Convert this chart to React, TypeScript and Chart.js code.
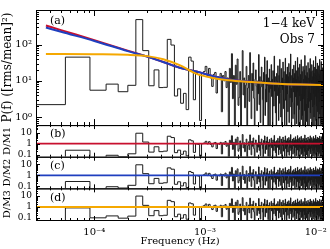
import React, { useEffect, useRef } from 'react';
import { Chart, registerables } from 'chart.js';

Chart.register(...registerables);

// ---- data ----
const FREQ_STEP = 3.65e-5; // Hz, periodogram resolution (bin k centred at k*FREQ_STEP)
const FREQ_MIN = 2.97e-5;
const FREQ_MAX = 0.0119;

// periodogram power, bins k = 1..328
const POWER: number[] = [
  2.2, 45, 5.5, 8.1, 5.0, 7.5, 490, 68, 7.3, 20,
  6.5, 6.6, 139, 97, 3.8, 6.0, 2.4, 4.5, 1.6, 45,
  35, 3.0, 17, 15, 0.8, 16, 18, 25, 14, 22,
  12, 7.0, 15, 17, 4.6, 13, 11, 16, 1.4, 14, 10, 18, 6.5, 12,
  0.4, 22, 9.0, 56, 3.2, 14, 0.3, 27, 8.0, 40, 2.1,
  3.5, 18, 0.5, 9.2, 68, 4.1, 12, 1.8, 7.5, 25, 0.2, 6.3, 14,
  2.7, 60, 8.8, 0.9, 16, 5.4, 31, 3.3, 0.4, 11, 20, 7.1, 1.5,
  9.9, 4.4, 53, 2.2, 13, 0.7, 6.8, 24, 10, 3.0, 0.25, 17, 8.3,
  45, 1.1, 5.9, 15, 2.6, 36, 7.4, 0.6, 12, 4.8, 21, 0.35, 9.6,
  6.1, 28, 3.7, 11, 0.45, 19, 8.0, 2.0, 48, 5.2, 13, 1.3, 7.9,
  0.15, 16, 10, 3.9, 26, 6.6, 0.8, 14, 2.4, 39, 9.1, 4.5, 1.0,
  22, 7.2, 0.3, 12, 5.7, 33, 1.7, 8.6, 18, 3.1, 0.55, 11, 42,
  2.9, 6.9, 15, 0.2, 9.4, 24, 4.2, 1.4, 13, 7.8, 30, 0.7, 5.5,
  17, 3.4, 10, 55, 1.9, 6.2, 0.4, 14, 8.7, 21, 2.5, 0.9, 12,
  4.9, 27, 7.0, 1.2, 16, 0.3, 9.8, 35, 3.6, 6.4, 11, 0.65, 19,
  8.2, 2.1, 44, 5.0, 13, 0.5, 7.6, 23, 1.6, 10, 3.8, 29, 0.25,
  6.7, 15, 2.8, 9.0, 38, 0.85, 4.3, 12, 18, 1.1, 7.3, 0.4, 25,
  3.2, 11, 5.8, 0.6, 20, 8.4, 1.5, 50, 4.0, 14, 0.3, 9.5, 6.0,
  26, 2.3, 0.75, 13, 7.7, 17, 3.5, 0.2, 10, 32, 5.1, 1.8, 8.9,
  12, 0.45, 22, 6.5, 2.7, 15, 9.3, 41, 1.3, 4.6, 0.9, 18, 7.0,
  3.0, 11, 28, 0.35, 8.1, 5.6, 13, 1.9, 19, 0.6, 10, 36, 4.4,
  6.3, 1.0, 16, 9.7, 2.2, 24, 0.5, 7.4, 12, 3.7, 47, 5.3, 0.8,
  14, 8.5, 2.0, 21, 0.3, 10, 6.1, 31, 3.3, 1.4, 17, 7.9, 0.55,
  11, 4.7, 26, 0.9, 9.2, 15, 2.6, 6.8, 39, 1.2, 13, 0.4, 8.0,
  5.4, 20, 3.1, 0.7, 12, 34, 7.2, 1.7, 10, 0.25, 16, 4.1, 23,
  2.4, 9.0, 0.6, 14, 6.6, 1.1, 28, 8.3, 3.9, 18, 0.45, 11, 7.5,
];

// model curves read at these frequencies
const MODEL_FREQ = [3.65e-5, 5e-5, 1e-4, 2e-4, 3e-4, 4.2e-4, 5.9e-4, 8.4e-4, 1.17e-3, 1.64e-3, 2.65e-3, 5e-3, 1.19e-2];
const MODEL_M1 = [336, 250, 133, 68, 47, 33, 23, 18, 13.6, 10.8, 9.3, 8.2, 7.7];
const MODEL_M2 = [296, 225, 126, 66, 46.5, 33, 23, 18, 13.6, 10.8, 9.3, 8.2, 7.7];
const MODEL_M3 = [55, 55, 54, 52, 48, 39.5, 27, 15.5, 12, 10.3, 9.2, 8.1, 7.7];

const MODEL_COLORS = ['#c8102e', '#1f3fbf', '#f5a800'];
const PANEL_LETTERS = ['(a)', '(b)', '(c)', '(d)'];
const X_TITLE = 'Frequency (Hz)';
const TOP_TITLE = 'P(f) ([rms/mean]²)';
const RESID_TITLES = ['D/M1', 'D/M2', 'D/M3'];
const BAND_TEXT = '1−4 keV';
const OBS_TEXT = 'Obs 7';
const RESID_TICK_VALUES = [0.1, 1, 10];
const RESID_TICK_LABELS = ['0.1', '1', '10'];

const FONT = '"DejaVu Serif", serif';
const DATA_COLOR = '#1c1c1c';
const PANEL_IDS = ['ya', 'yb', 'yc', 'yd'];

// ---- helpers ----
const SUP: Record<string, string> = {
  '-': '⁻', '0': '⁰', '1': '¹', '2': '²', '3': '³', '4': '⁴', '5': '⁵', '6': '⁶', '7': '⁷', '8': '⁸', '9': '⁹',
};
function pow10Label(v: number): string {
  const e = Math.log10(v);
  const r = Math.round(e);
  if (Math.abs(e - r) > 1e-6) return '';
  return '10' + String(r).split('').map((c) => SUP[c]).join('');
}
function residLabel(v: number): string {
  for (let i = 0; i < RESID_TICK_VALUES.length; i++) {
    if (Math.abs(Math.log10(v) - Math.log10(RESID_TICK_VALUES[i])) < 1e-6) return RESID_TICK_LABELS[i];
  }
  return '';
}
function histogram(values: number[]) {
  const pts = values.map((v, i) => ({ x: (i + 0.5) * FREQ_STEP, y: v }));
  pts.push({ x: (values.length + 0.5) * FREQ_STEP, y: values[values.length - 1] });
  return pts;
}
function modelAt(vals: number[], f: number): number {
  const fr = MODEL_FREQ;
  if (f <= fr[0]) return vals[0];
  for (let i = 0; i < fr.length - 1; i++) {
    if (f <= fr[i + 1]) {
      const t = (Math.log(f) - Math.log(fr[i])) / (Math.log(fr[i + 1]) - Math.log(fr[i]));
      return Math.exp(Math.log(vals[i]) + t * (Math.log(vals[i + 1]) - Math.log(vals[i])));
    }
  }
  return vals[vals.length - 1];
}
function logTicks(min: number, max: number) {
  const out: { v: number; major: boolean }[] = [];
  for (let e = Math.floor(Math.log10(min)); e <= Math.ceil(Math.log10(max)); e++) {
    for (let m = 1; m <= 9; m++) {
      const v = m * Math.pow(10, e);
      if (v >= min * 0.9999 && v <= max * 1.0001) out.push({ v, major: m === 1 });
    }
  }
  return out;
}

const MODELS = [MODEL_M1, MODEL_M2, MODEL_M3];

function buildDatasets() {
  const ds: any[] = [];
  ds.push({
    data: histogram(POWER), yAxisID: 'ya', borderColor: DATA_COLOR, borderWidth: 1,
    stepped: 'before', pointRadius: 0, order: 10,
  });
  const topOrder = [3, 2, 1];
  MODELS.forEach((m, j) => {
    ds.push({
      data: MODEL_FREQ.map((f, i) => ({ x: f, y: m[i] })), yAxisID: 'ya',
      borderColor: MODEL_COLORS[j], borderWidth: 2, pointRadius: 0,
      cubicInterpolationMode: 'monotone', order: topOrder[j],
    });
  });
  MODELS.forEach((m, j) => {
    const resid = POWER.map((v, i) => v / modelAt(m, (i + 1) * FREQ_STEP));
    ds.push({
      data: histogram(resid), yAxisID: PANEL_IDS[j + 1], borderColor: DATA_COLOR, borderWidth: 1,
      stepped: 'before', pointRadius: 0, order: 10,
    });
    ds.push({
      data: [{ x: FREQ_MIN, y: 1 }, { x: FREQ_MAX, y: 1 }], yAxisID: PANEL_IDS[j + 1],
      borderColor: MODEL_COLORS[j], borderWidth: 1.8, pointRadius: 0, order: 1,
    });
  });
  return ds;
}

function yScale(weight: number, stackWeight: number, min: number, max: number, title: string,
  titleSize: number, tickSize: number, cb: (v: number) => string) {
  return {
    type: 'logarithmic', position: 'left', stack: 'panels', stackWeight, weight, min, max,
    grid: { display: false, drawTicks: false }, border: { display: false },
    ticks: { autoSkip: false, padding: 4, color: '#000', font: { family: FONT, size: tickSize }, callback: (v: any) => cb(Number(v)) },
    title: { display: true, text: title, color: '#000', font: { family: FONT, size: titleSize }, padding: { top: 1, bottom: 0 } },
    afterFit: (s: any) => { s.width = 36; },
  };
}

const clipPlugin = {
  id: 'panelClip',
  beforeDatasetDraw(chart: any, args: any) {
    const ys = chart.scales[args.meta.yAxisID];
    const ca = chart.chartArea;
    const ctx = chart.ctx;
    ctx.save();
    ctx.beginPath();
    ctx.rect(ca.left, ys.top, ca.right - ca.left, ys.bottom - ys.top);
    ctx.clip();
  },
  afterDatasetDraw(chart: any) {
    chart.ctx.restore();
  },
};

const framePlugin = {
  id: 'frame',
  afterDraw(chart: any) {
    const ctx = chart.ctx;
    const xs = chart.scales.x;
    const L = chart.chartArea.left;
    const R = chart.chartArea.right;
    ctx.save();
    ctx.strokeStyle = '#000';
    ctx.lineWidth = 1;
    PANEL_IDS.forEach((id, i) => {
      const ys = chart.scales[id];
      const T = ys.top;
      const B = ys.bottom;
      ctx.strokeRect(L + 0.5, T + 0.5, R - L - 1, B - T);
      const big = i === 0 ? 6 : 4;
      const small = i === 0 ? 3 : 2;
      ctx.beginPath();
      logTicks(xs.min, xs.max).forEach((t) => {
        const px = Math.round(xs.getPixelForValue(t.v)) + 0.5;
        const len = t.major ? big : small;
        ctx.moveTo(px, B); ctx.lineTo(px, B - len);
        ctx.moveTo(px, T); ctx.lineTo(px, T + len);
      });
      logTicks(ys.min, ys.max).forEach((t) => {
        const py = Math.round(ys.getPixelForValue(t.v)) + 0.5;
        const len = t.major ? big : small;
        ctx.moveTo(L, py); ctx.lineTo(L + len, py);
        ctx.moveTo(R, py); ctx.lineTo(R - len, py);
      });
      ctx.stroke();
      ctx.fillStyle = '#000';
      ctx.font = `11px ${FONT}`;
      ctx.textAlign = 'left';
      ctx.textBaseline = 'middle';
      ctx.fillText(PANEL_LETTERS[i], L + 14, T + (i === 0 ? 11.5 : 9.5));
    });
    const ya = chart.scales.ya;
    ctx.font = `12px ${FONT}`;
    ctx.textAlign = 'right';
    ctx.textBaseline = 'middle';
    ctx.fillText(BAND_TEXT, R - 9, ya.top + 14);
    ctx.fillText(OBS_TEXT, R - 9, ya.top + 29.5);
    ctx.restore();
  },
};

export default function App() {
  const ref = useRef<HTMLCanvasElement>(null);
  useEffect(() => {
    document.body.style.margin = '0';
    const chart = new Chart(ref.current as HTMLCanvasElement, {
      type: 'line',
      data: { datasets: buildDatasets() },
      options: {
        animation: false,
        responsive: false,
        devicePixelRatio: 1,
        events: [],
        layout: { padding: { top: 1, right: 2, left: 0, bottom: 0 } },
        plugins: { legend: { display: false }, tooltip: { enabled: false } },
        scales: {
          x: {
            type: 'logarithmic', position: 'bottom', min: FREQ_MIN, max: FREQ_MAX,
            grid: { display: false, drawTicks: false }, border: { display: false },
            ticks: { autoSkip: false, maxRotation: 0, padding: 6, color: '#000', font: { family: FONT, size: 10 }, callback: (v: any) => pow10Label(Number(v)) },
            title: { display: true, text: X_TITLE, color: '#000', font: { family: FONT, size: 10 }, padding: { top: 0, bottom: 2 } },
            afterFit: (s: any) => { s.height = 29; },
          },
          ya: yScale(4, 120, 0.6, 900, TOP_TITLE, 12, 10, pow10Label),
          yb: yScale(3, 33, 0.065, 50, RESID_TITLES[0], 10, 9, residLabel),
          yc: yScale(2, 33, 0.065, 50, RESID_TITLES[1], 10, 9, residLabel),
          yd: yScale(1, 33, 0.065, 50, RESID_TITLES[2], 10, 9, residLabel),
        } as any,
      },
      plugins: [clipPlugin, framePlugin],
    } as any);
    return () => chart.destroy();
  }, []);
  return (
    <div style={{ position: 'absolute', left: 0, top: 0, width: 330, height: 249 }}>
      <canvas ref={ref} width={330} height={249} style={{ display: 'block', width: 330, height: 249 }} />
    </div>
  );
}
